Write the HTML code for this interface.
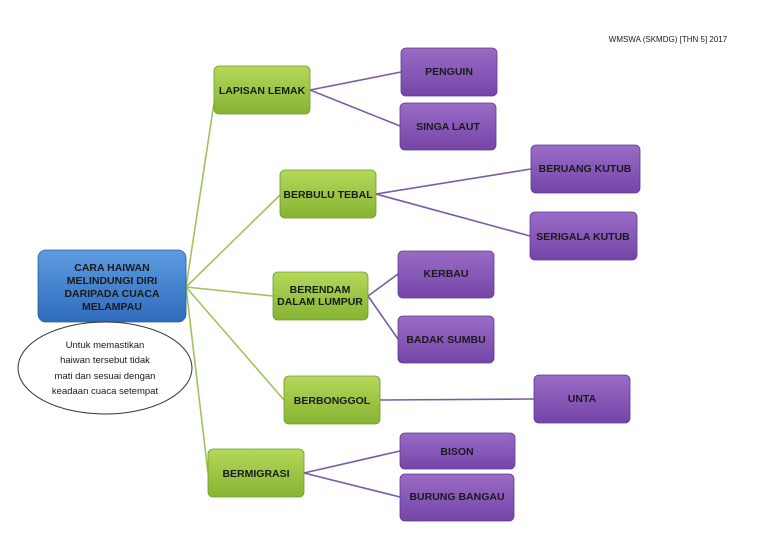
<!DOCTYPE html>
<html><head><meta charset="utf-8"><style>
html,body{margin:0;padding:0;background:#fff;}
svg{display:block;}
text{font-family:"Liberation Sans",sans-serif;font-weight:bold;font-size:10.5px;fill:#1a1a1a;text-anchor:middle;}
</style></head><body>
<svg width="768" height="543" viewBox="0 0 768 543" xmlns="http://www.w3.org/2000/svg">
<defs>
<linearGradient id="g" x1="0" y1="0" x2="0" y2="1"><stop offset="0" stop-color="#b4d85a"/><stop offset="1" stop-color="#86b332"/></linearGradient>
<linearGradient id="p" x1="0" y1="0" x2="0" y2="1"><stop offset="0" stop-color="#9a6cc6"/><stop offset="1" stop-color="#7445a8"/></linearGradient>
<linearGradient id="b" x1="0" y1="0" x2="0" y2="1"><stop offset="0" stop-color="#5d9ce0"/><stop offset="1" stop-color="#2f6bbd"/></linearGradient>
</defs>
<text x="668" y="42" style="font-size:8px;font-weight:normal">WMSWA (SKMDG) [THN 5] 2017</text>
<g stroke="#9dc55a" stroke-width="1.6" fill="none">
<line x1="186" y1="287" x2="214" y2="103"/>
<line x1="186" y1="287" x2="280" y2="195"/>
<line x1="186" y1="287" x2="273" y2="296"/>
<line x1="186" y1="287" x2="284" y2="400"/>
<line x1="186" y1="287" x2="208" y2="473"/>
</g>
<g stroke="#7d5aa8" stroke-width="1.6" fill="none">
<line x1="310" y1="90" x2="401" y2="72"/>
<line x1="310" y1="90" x2="400" y2="126"/>
<line x1="376" y1="194" x2="531" y2="169"/>
<line x1="376" y1="194" x2="530" y2="236"/>
<line x1="368" y1="296" x2="398" y2="274"/>
<line x1="368" y1="296" x2="398" y2="339"/>
<line x1="380" y1="400" x2="534" y2="399"/>
<line x1="304" y1="473" x2="400" y2="451"/>
<line x1="304" y1="473" x2="400" y2="497"/>
</g>
<g stroke="#6f9a2e" stroke-width="0.8">
<rect x="214" y="66" width="96" height="48" rx="5" fill="url(#g)"/>
<rect x="280" y="170" width="96" height="48" rx="5" fill="url(#g)"/>
<rect x="273" y="272" width="95" height="48" rx="5" fill="url(#g)"/>
<rect x="284" y="376" width="96" height="48" rx="5" fill="url(#g)"/>
<rect x="208" y="449" width="96" height="48" rx="5" fill="url(#g)"/>
</g>
<g stroke="#5e3a8a" stroke-width="0.8">
<rect x="401" y="48" width="96" height="48" rx="5" fill="url(#p)"/>
<rect x="400" y="103" width="96" height="47" rx="5" fill="url(#p)"/>
<rect x="531" y="145" width="109" height="48" rx="5" fill="url(#p)"/>
<rect x="530" y="212" width="107" height="48" rx="5" fill="url(#p)"/>
<rect x="398" y="251" width="96" height="47" rx="5" fill="url(#p)"/>
<rect x="398" y="316" width="96" height="47" rx="5" fill="url(#p)"/>
<rect x="534" y="375" width="96" height="48" rx="5" fill="url(#p)"/>
<rect x="400" y="433" width="115" height="36" rx="5" fill="url(#p)"/>
<rect x="400" y="474" width="114" height="47" rx="5" fill="url(#p)"/>
</g>
<rect x="38" y="250" width="148" height="72" rx="8" fill="url(#b)" stroke="#2a5c9e" stroke-width="0.8"/>
<ellipse cx="105" cy="368" rx="87" ry="46" fill="#fff" stroke="#333" stroke-width="1"/>
<text x="112" y="271">CARA HAIWAN</text>
<text x="112" y="284">MELINDUNGI DIRI</text>
<text x="112" y="297">DARIPADA CUACA</text>
<text x="112" y="310">MELAMPAU</text>
<g style="font-weight:normal;font-size:9.5px">
<text x="105" y="348" style="font-weight:normal;font-size:9.5px">Untuk memastikan</text>
<text x="105" y="363" style="font-weight:normal;font-size:9.5px">haiwan tersebut tidak</text>
<text x="105" y="379" style="font-weight:normal;font-size:9.5px">mati dan sesuai dengan</text>
<text x="105" y="394" style="font-weight:normal;font-size:9.5px">keadaan cuaca setempat</text>
</g>
<text x="262" y="94">LAPISAN LEMAK</text>
<text x="328" y="198">BERBULU TEBAL</text>
<text x="320" y="293">BERENDAM</text>
<text x="320" y="305">DALAM LUMPUR</text>
<text x="332" y="404">BERBONGGOL</text>
<text x="256" y="477">BERMIGRASI</text>
<text x="449" y="75">PENGUIN</text>
<text x="448" y="130">SINGA LAUT</text>
<text x="585" y="172">BERUANG KUTUB</text>
<text x="583" y="240">SERIGALA KUTUB</text>
<text x="446" y="277">KERBAU</text>
<text x="446" y="343">BADAK SUMBU</text>
<text x="582" y="402">UNTA</text>
<text x="457" y="455">BISON</text>
<text x="457" y="500">BURUNG BANGAU</text>
</svg>
</body></html>
